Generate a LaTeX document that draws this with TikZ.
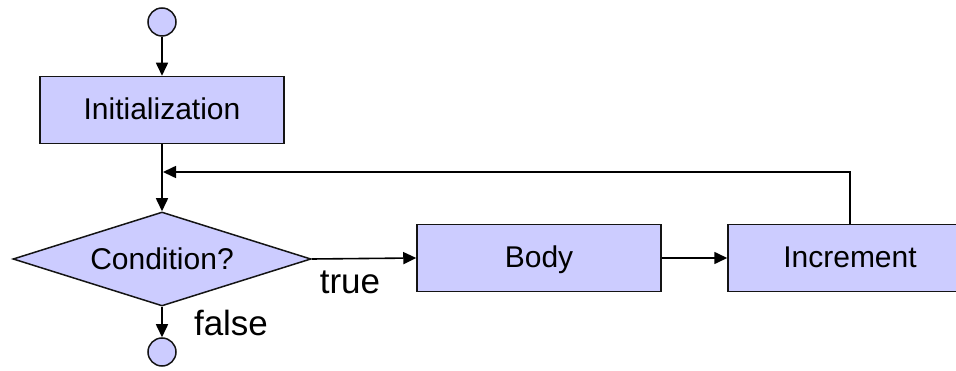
\documentclass[tikz,border=0pt]{standalone}
\usepackage{fontspec}
\setmainfont{Liberation Sans}
\usetikzlibrary{shapes.geometric,arrows.meta}
\definecolor{boxfill}{RGB}{204,204,255}
\definecolor{edge}{RGB}{20,20,20}
\tikzset{
  flowbox/.style={draw=edge,fill=boxfill,line width=1.5pt,rectangle,inner sep=0pt,
    text height=21pt,text depth=1pt,
    minimum width=244pt,minimum height=67pt,font=\fontsize{30}{36}\selectfont},
  decision/.style={draw=edge,fill=boxfill,line width=1.5pt,diamond,inner sep=0pt,aspect=3.17,
    minimum width=298pt,minimum height=94pt,font=\fontsize{30}{36}\selectfont},
  terminal/.style={draw=edge,fill=boxfill,line width=1.5pt,circle,inner sep=0pt,minimum size=28pt},
  conn/.style={draw=black,line width=1.6pt,-{Triangle[length=13pt,width=12pt]}},
  lbl/.style={font=\fontsize{35}{42}\selectfont,inner sep=0pt}
}
\begin{document}
\begin{tikzpicture}[x=1pt,y=-1pt]
\useasboundingbox (0,0) rectangle (956,371);
\clip (0,0) rectangle (956,371);
\node[terminal] (start) at (162,22) {};
\node[flowbox] (init) at (162,110) {Initialization};
\node[decision] (cond) at (162,259) {Condition?};
\node[flowbox] (body) at (539,258) {Body};
\node[flowbox] (incr) at (850,258) {Increment};
\node[terminal] (end) at (162,352) {};
\coordinate (join) at (162,172);
\node[lbl] (ltrue) at (350,282) {true};
\node[lbl] (lfalse) at (231,323) {false};
\draw[conn] (start) -- (init);
\draw[conn] (init) -- (cond);
\draw[conn] (cond.east) -- (body.west);
\draw[conn] (body) -- (incr);
\draw[conn,shorten >=1pt] (incr.north) |- (join);
\draw[conn] (cond.south) -- (end);
\end{tikzpicture}
\end{document}
